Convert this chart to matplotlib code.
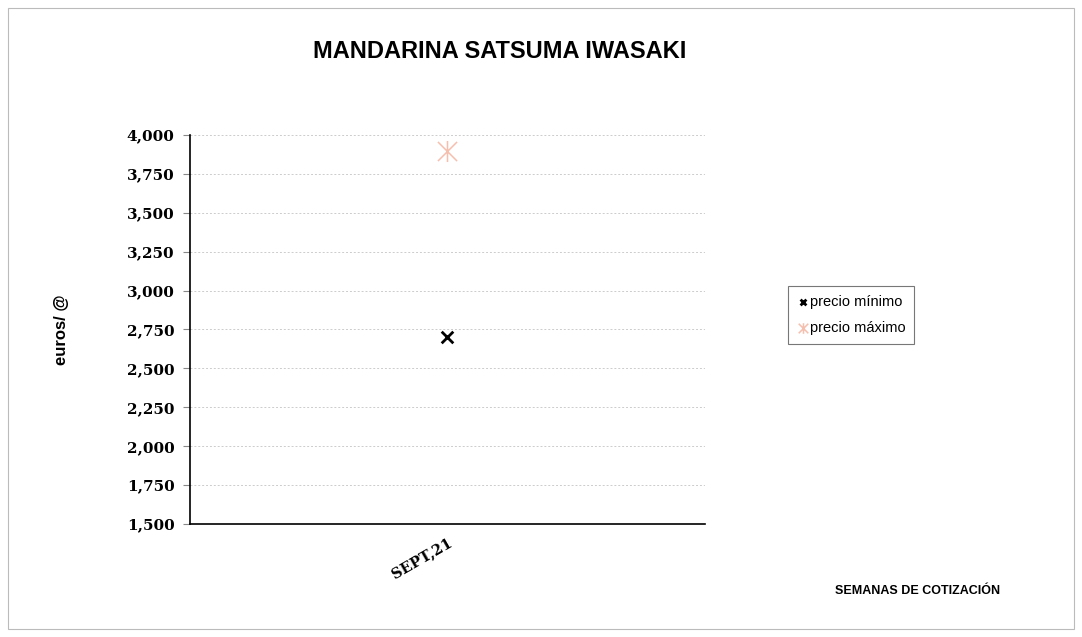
import matplotlib.pyplot as plt
from matplotlib.patches import Rectangle
from matplotlib.path import Path
from matplotlib.ticker import FuncFormatter

semanas = ["SEPT,21"]
precio_minimo = [2.70]
precio_maximo = [3.90]
yticks = [1.5, 1.75, 2.0, 2.25, 2.5, 2.75, 3.0, 3.25, 3.5, 3.75, 4.0]

# Excel-style star marker: an X with a vertical bar through it
star = Path([(-1, -1), (1, 1), (-1, 1), (1, -1), (0, -1.1), (0, 1.1)],
            [Path.MOVETO, Path.LINETO, Path.MOVETO, Path.LINETO, Path.MOVETO, Path.LINETO])

fig = plt.figure(figsize=(10.82, 6.37), dpi=100)
ax = fig.add_axes([190 / 1082, 1 - 524 / 637, 515 / 1082, 389 / 637])

x = range(len(semanas))
ax.scatter(x, precio_minimo, marker="x", s=70, color="black", linewidths=2, label="precio mínimo", zorder=3)
ax.scatter(x, precio_maximo, marker=star, s=230, color="#f5bfae", linewidths=1.1, label="precio máximo", zorder=3)

ax.set_xlim(-0.5, 0.5)
ax.set_ylim(1.5, 4.0)
ax.set_yticks(yticks)
ax.yaxis.set_major_formatter(FuncFormatter(lambda v, p: f"{v:.3f}".replace(".", ",")))
ax.set_xticks(list(x))
ax.set_xticklabels(semanas, rotation=30, ha="right", rotation_mode="anchor",
                   family="DejaVu Serif", fontweight="bold", fontsize=10.5)
for lab in ax.get_yticklabels():
    lab.set_family("DejaVu Serif")
    lab.set_fontweight("bold")
    lab.set_fontsize(11)

ax.grid(axis="y", color="#cccccc", linestyle=(0, (2, 2)), linewidth=0.7)
ax.set_axisbelow(True)
for s in ["top", "right"]:
    ax.spines[s].set_visible(False)
ax.spines["left"].set_linewidth(1.2)
ax.spines["bottom"].set_linewidth(1.2)
ax.tick_params(axis="y", length=5, color="#888888", pad=6)
ax.tick_params(axis="x", length=0, pad=8)

fig.text(500 / 1082, 1 - 51 / 637, "MANDARINA SATSUMA IWASAKI", ha="center", va="center",
         fontsize=17, fontweight="bold", family="Liberation Sans")
fig.text(62 / 1082, 1 - 330 / 637, "euros/ @", rotation=90, ha="center", va="center",
         fontsize=12, fontweight="bold", family="Liberation Sans")
fig.text(918 / 1082, 1 - 591 / 637, "SEMANAS DE COTIZACIÓN", ha="center", va="center",
         fontsize=9, fontweight="bold", family="Liberation Sans")

leg = ax.legend(loc="center left", bbox_to_anchor=(788 / 1082, 1 - 315 / 637),
                bbox_transform=fig.transFigure, frameon=True, fancybox=False, borderaxespad=0,
                handletextpad=0.1, handlelength=0.8, markerscale=0.5,
                prop={"family": "Liberation Sans", "size": 10.5}, borderpad=0.6, labelspacing=0.8)
leg.get_frame().set_edgecolor("#555555")
leg.get_frame().set_linewidth(0.8)

fig.patches.append(Rectangle((8 / 1082, 8 / 637), 1066 / 1082, 621 / 637, transform=fig.transFigure,
                             fill=False, edgecolor="#bbbbbb", linewidth=0.8))

fig.savefig("out.png", dpi=100)
